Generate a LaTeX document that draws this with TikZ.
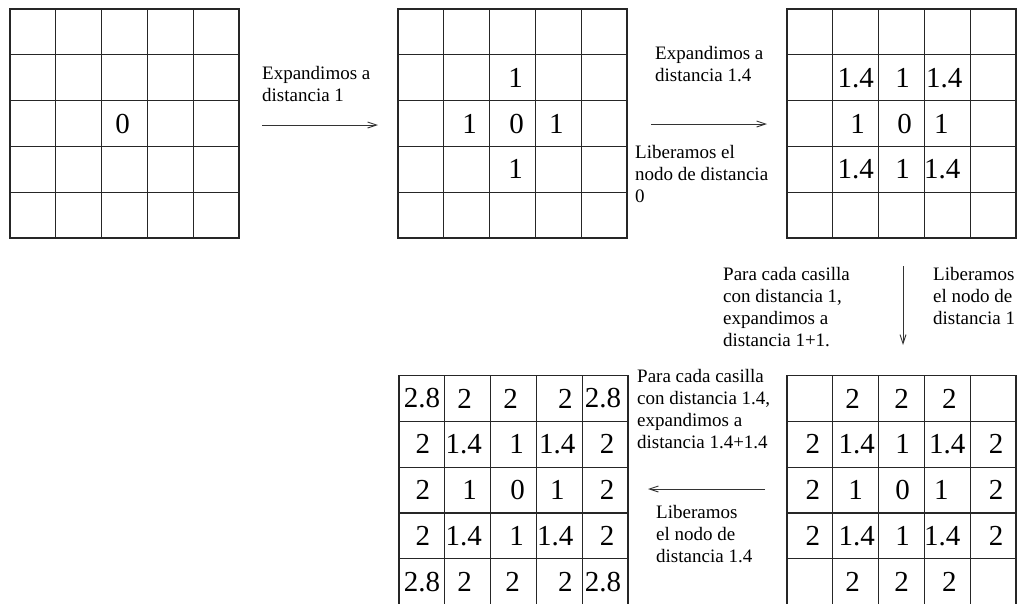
\documentclass[tikz,border=0pt]{standalone}
\usepackage{fontspec}
\setmainfont{Liberation Serif}
\usetikzlibrary{arrows.meta}
\tikzset{
  gridbox/.style={draw=black!85, line width=1.1pt, anchor=north west, minimum width=229pt, minimum height=229pt, inner sep=0pt, outer sep=0pt},
  gridline/.style={draw=black!85, line width=1.1pt},
  num/.style={font=\fontsize{29}{32}\selectfont, inner sep=0pt, anchor=center},
  lab/.style={font=\fontsize{19}{22}\selectfont, align=left, inner sep=0pt, anchor=base west},
  arr/.style={draw=black!80, line width=0.9pt, -{Straight Barb[length=9pt,width=6pt]}}
}
\begin{document}
\begin{tikzpicture}[x=1pt,y=-1pt]
\useasboundingbox (0,0) rectangle (1022,603);
% grids
\node[gridbox] (g1) at (10,9) {};
\node[gridbox] (g2) at (398,9) {};
\node[gridbox] (g3) at (787,9) {};
\node[gridbox] (g4) at (399,375.6) {};
\node[gridbox] (g5) at (787,375.6) {};
\foreach \g in {g1,g2,g3,g4,g5}{
  \foreach \k in {1,...,4}{
    \draw[gridline] ([xshift={45.8*\k}]\g.north west) -- ([xshift={45.8*\k}]\g.south west);
    \draw[gridline] ([yshift={-45.8*\k}]\g.north west) -- ([yshift={-45.8*\k}]\g.north east);
  }
}
% numbers
\foreach \c/\r/\dx/\t [count=\i] in {2/2/-2/0}
  \node[num] (g1n\i) at ([xshift={22.9+45.8*\c+\dx}, yshift={-22.9-45.8*\r}]g1.north west) {\t};
\foreach \c/\r/\dx/\t [count=\i] in {2/1/3/1, 1/2/3/1, 2/2/4/0, 3/2/-2/1, 2/3/3/1}
  \node[num] (g2n\i) at ([xshift={22.9+45.8*\c+\dx}, yshift={-22.9-45.8*\r}]g2.north west) {\t};
\foreach \c/\r/\dx/\t [count=\i] in {1/1/0/1.4, 2/1/1/1, 3/1/-3/1.4, 1/2/2/1, 2/2/3/0, 3/2/-6/1, 1/3/0/1.4, 2/3/1/1, 3/3/-5/1.4}
  \node[num] (g3n\i) at ([xshift={22.9+45.8*\c+\dx}, yshift={-22.9-45.8*\r}]g3.north west) {\t};
\foreach \c/\r/\dx/\t [count=\i] in {
  0/0/0/2.8, 1/0/-3/2, 2/0/-3/2, 3/0/6/2, 4/0/-2/2.8,
  0/1/1/2, 1/1/-4/1.4, 2/1/3/1, 3/1/-2/1.4, 4/1/2/2,
  0/2/1/2, 1/2/2/1, 2/2/4/0, 3/2/-2/1, 4/2/2/2,
  0/3/1/2, 1/3/-4/1.4, 2/3/3/1, 3/3/-4/1.4, 4/3/2/2,
  0/4/0/2.8, 1/4/-3/2, 2/4/-1/2, 3/4/6/2, 4/4/-2/2.8}
  \node[num] (g4n\i) at ([xshift={22.9+45.8*\c+\dx}, yshift={-22.9-45.8*\r}]g4.north west) {\t};
\foreach \c/\r/\dx/\t [count=\i] in {
  1/0/-3/2, 2/0/0/2, 3/0/2/2,
  0/1/3/2, 1/1/1/1.4, 2/1/1/1, 3/1/0/1.4, 4/1/3/2,
  0/2/3/2, 1/2/0/1, 2/2/1/0, 3/2/-6/1, 4/2/3/2,
  0/3/3/2, 1/3/1/1.4, 2/3/1/1, 3/3/-5/1.4, 4/3/3/2,
  1/4/-3/2, 2/4/0/2, 3/4/2/2}
  \node[num] (g5n\i) at ([xshift={22.9+45.8*\c+\dx}, yshift={-22.9-45.8*\r}]g5.north west) {\t};
% labels (anchor = baseline of last line)
\node[lab] (t1) at (262,101) {Expandimos a\\distancia 1};
\node[lab] (t2) at (655,81) {Expandimos a\\distancia 1.4};
\node[lab] (t3) at (635,202) {Liberamos el\\nodo de distancia\\0};
\node[lab] (t4) at (723,346) {Para cada casilla\\con distancia 1,\\expandimos a\\distancia 1+1.};
\node[lab] (t5) at (933,324) {Liberamos\\el nodo de\\distancia 1};
\node[lab] (t6) at (637,448) {Para cada casilla\\con distancia 1.4,\\expandimos a\\distancia 1.4+1.4};
\node[lab] (t7) at (656,562) {Liberamos\\el nodo de\\distancia 1.4};
% arrows
\coordinate (a1s) at (262,125); \coordinate (a1e) at (378,125);
\coordinate (a2s) at (651,124); \coordinate (a2e) at (767,124);
\coordinate (a3s) at (903,266); \coordinate (a3e) at (903,345);
\coordinate (a4s) at (765,489); \coordinate (a4e) at (648,489);
\draw[arr] (a1s) -- (a1e);
\draw[arr] (a2s) -- (a2e);
\draw[arr] (a3s) -- (a3e);
\draw[arr] (a4s) -- (a4e);
\end{tikzpicture}
\end{document}
